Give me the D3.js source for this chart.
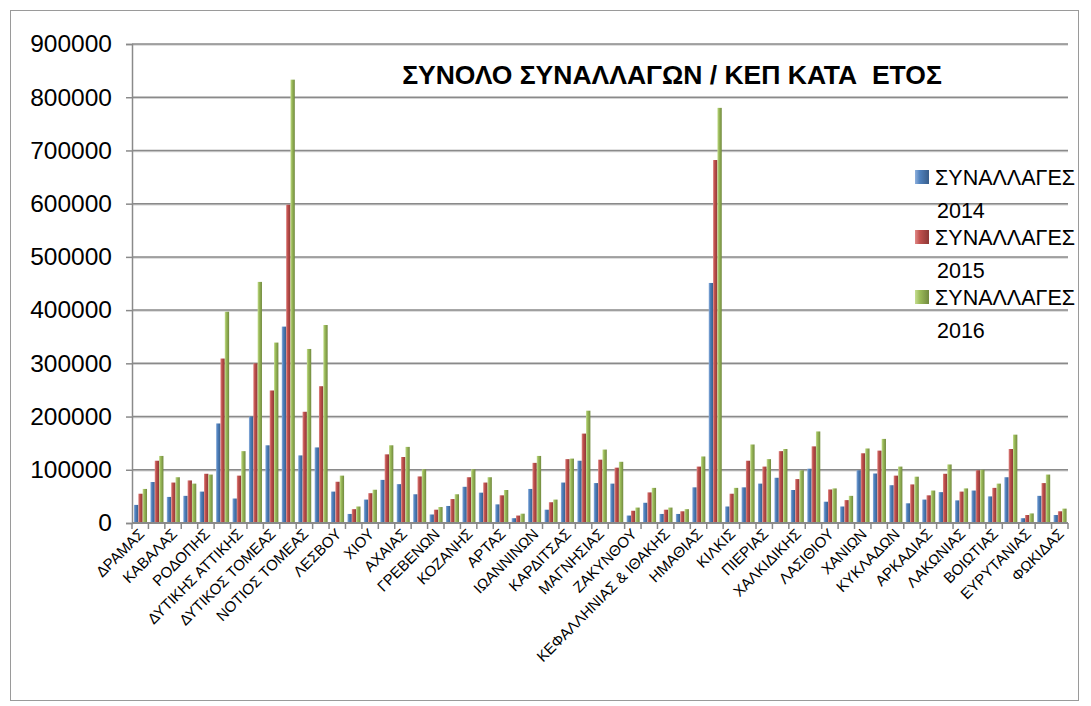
<!DOCTYPE html>
<html>
<head>
<meta charset="utf-8">
<script src="https://cdn.jsdelivr.net/npm/d3@7"></script>
<style>
  body { margin: 0; background: white; }
  text { font-family: "Liberation Sans", Arial, sans-serif; }
</style>
</head>
<body>
<svg id="chart" width="1091" height="706"></svg>
<script>
// categories (only every other one is labelled on the axis)
const categories = [
  "ΔΡΑΜΑΣ", "ΕΒΡΟΥ", "ΚΑΒΑΛΑΣ", "ΞΑΝΘΗΣ", "ΡΟΔΟΠΗΣ", "ΑΝΑΤΟΛΙΚΗΣ ΑΤΤΙΚΗΣ",
  "ΔΥΤΙΚΗΣ ΑΤΤΙΚΗΣ", "ΒΟΡΕΙΟΣ ΤΟΜΕΑΣ", "ΔΥΤΙΚΟΣ ΤΟΜΕΑΣ", "ΚΕΝΤΡΙΚΟΣ ΤΟΜΕΑΣ",
  "ΝΟΤΙΟΣ ΤΟΜΕΑΣ", "ΠΕΙΡΑΙΩΣ", "ΛΕΣΒΟΥ", "ΣΑΜΟΥ", "ΧΙΟΥ", "ΑΙΤΩΛΟΑΚΑΡΝΑΝΙΑΣ",
  "ΑΧΑΙΑΣ", "ΗΛΕΙΑΣ", "ΓΡΕΒΕΝΩΝ", "ΚΑΣΤΟΡΙΑΣ", "ΚΟΖΑΝΗΣ", "ΦΛΩΡΙΝΑΣ", "ΑΡΤΑΣ",
  "ΘΕΣΠΡΩΤΙΑΣ", "ΙΩΑΝΝΙΝΩΝ", "ΠΡΕΒΕΖΑΣ", "ΚΑΡΔΙΤΣΑΣ", "ΛΑΡΙΣΑΣ", "ΜΑΓΝΗΣΙΑΣ",
  "ΤΡΙΚΑΛΩΝ", "ΖΑΚΥΝΘΟΥ", "ΚΕΡΚΥΡΑΣ", "ΚΕΦΑΛΛΗΝΙΑΣ & ΙΘΑΚΗΣ", "ΛΕΥΚΑΔΑΣ",
  "ΗΜΑΘΙΑΣ", "ΘΕΣΣΑΛΟΝΙΚΗΣ", "ΚΙΛΚΙΣ", "ΠΕΛΛΑΣ", "ΠΙΕΡΙΑΣ", "ΣΕΡΡΩΝ",
  "ΧΑΛΚΙΔΙΚΗΣ", "ΗΡΑΚΛΕΙΟΥ", "ΛΑΣΙΘΙΟΥ", "ΡΕΘΥΜΝΟΥ", "ΧΑΝΙΩΝ", "ΔΩΔΕΚΑΝΗΣΟΥ",
  "ΚΥΚΛΑΔΩΝ", "ΑΡΓΟΛΙΔΑΣ", "ΑΡΚΑΔΙΑΣ", "ΚΟΡΙΝΘΙΑΣ", "ΛΑΚΩΝΙΑΣ", "ΜΕΣΣΗΝΙΑΣ",
  "ΒΟΙΩΤΙΑΣ", "ΕΥΒΟΙΑΣ", "ΕΥΡΥΤΑΝΙΑΣ", "ΦΘΙΩΤΙΔΑΣ", "ΦΩΚΙΔΑΣ"
];

const series = ["ΣΥΝΑΛΛΑΓΕΣ 2014", "ΣΥΝΑΛΛΑΓΕΣ 2015", "ΣΥΝΑΛΛΑΓΕΣ 2016"];

const v2014 = [
  34000, 77000, 49000, 51000, 59000, 187000, 46000, 200000, 146000, 369000,
  127000, 142000, 59000, 17000, 44000, 81000, 73000, 54000, 16000, 32000,
  68000, 57000, 35000, 9000, 64000, 25000, 76000, 117000, 75000, 74000,
  14000, 38000, 17000, 17000, 67000, 451000, 31000, 67000, 74000, 85000,
  62000, 102000, 40000, 31000, 99000, 93000, 71000, 37000, 44000, 58000,
  42500, 61000, 50000, 86000, 9000, 51000, 15000
];
const v2015 = [
  55000, 117000, 76000, 80000, 92500, 309000, 89000, 300000, 249000, 598000,
  209000, 257000, 77500, 26000, 56000, 129000, 124000, 87500, 25000, 45000,
  86000, 76000, 52000, 14000, 113000, 39000, 120000, 168000, 119000, 104000,
  23000, 57500, 25000, 22000, 106000, 682000, 55000, 117000, 106000, 135000,
  82500, 144000, 63000, 43000, 131000, 136000, 89000, 72500, 52000, 92500,
  59000, 99000, 66000, 139000, 15000, 75000, 22000
];
const v2016 = [
  64000, 126000, 86000, 74000, 91000, 397000, 135000, 453000, 339000, 833000,
  327000, 372000, 89000, 31000, 62500, 146000, 143000, 101000, 30000, 54000,
  101000, 86000, 62000, 17500, 126000, 44000, 121000, 211000, 138000, 115000,
  29000, 66000, 29000, 26000, 125000, 780000, 66000, 147500, 120000, 139000,
  99000, 172000, 65000, 51000, 140000, 158000, 106000, 87000, 61000, 110000,
  65000, 100000, 74000, 166000, 18000, 91000, 27000
];

const yTicks = [0, 100000, 200000, 300000, 400000, 500000, 600000, 700000, 800000, 900000];
const colors = ["#4f81bd", "#c0504d", "#9bbb59"];
const darker = ["#385d8a", "#8c3836", "#71893f"];
const lighter = ["#8fb0dc", "#e08a88", "#c6de92"];

const values = [v2014, v2015, v2016];

const svg = d3.select("#chart");

// outer chart border
svg.append("rect")
  .attr("x", 10.5).attr("y", 10.5)
  .attr("width", 1068).attr("height", 690)
  .attr("fill", "white")
  .attr("stroke", "#9a9a9a")
  .attr("stroke-width", 1);

const plot = { left: 132, right: 1068, top: 44, bottom: 523 };

const x = d3.scaleBand()
  .domain(categories)
  .range([plot.left, plot.right])
  .padding(0);

const x1 = d3.scaleBand()
  .domain(d3.range(3))
  .range([2.0, x.bandwidth() - 1.4])
  .padding(0);

const y = d3.scaleLinear()
  .domain([0, 900000])
  .range([plot.bottom, plot.top]);

// gradients for the bevelled bar look
const defs = svg.append("defs");
colors.forEach(function(c, i) {
  const grad = defs.append("linearGradient")
    .attr("id", "grad" + i)
    .attr("x1", "0%").attr("x2", "100%")
    .attr("y1", "0%").attr("y2", "0%");
  grad.append("stop").attr("offset", "0%").attr("stop-color", lighter[i]);
  grad.append("stop").attr("offset", "35%").attr("stop-color", c);
  grad.append("stop").attr("offset", "100%").attr("stop-color", darker[i]);
});

// gridlines
svg.append("g")
  .selectAll("line")
  .data(yTicks.slice(1))
  .join("line")
  .attr("x1", plot.left)
  .attr("x2", plot.right)
  .attr("y1", d => y(d) + 1)
  .attr("y2", d => y(d) + 1)
  .attr("stroke", "#d4d4d4")
  .attr("stroke-width", 1.5);

svg.append("g")
  .selectAll("line")
  .data(yTicks.slice(1))
  .join("line")
  .attr("x1", plot.left)
  .attr("x2", plot.right)
  .attr("y1", d => y(d))
  .attr("y2", d => y(d))
  .attr("stroke", "#8a8a8a")
  .attr("stroke-width", 1.5);

// bars
const groups = svg.append("g")
  .selectAll("g")
  .data(categories)
  .join("g")
  .attr("transform", d => translate(x(d), 0));

groups.selectAll("rect")
  .data((d, i) => values.map((v, s) => ({ s: s, value: v[i] })))
  .join("rect")
  .attr("x", d => x1(d.s))
  .attr("width", x1.bandwidth())
  .attr("y", d => y(d.value))
  .attr("height", d => y(0) - y(d.value))
  .attr("fill", d => "url(#grad" + d.s + ")");

// y axis
const yAxis = d3.axisLeft(y)
  .tickValues(yTicks)
  .tickFormat(d3.format("d"))
  .tickSize(6)
  .tickPadding(14);

const gy = svg.append("g")
  .attr("transform", translate(plot.left, 0))
  .call(yAxis);
gy.select(".domain").attr("stroke", "#8a8a8a").attr("stroke-width", 1.5);
gy.selectAll(".tick line").attr("stroke", "#8a8a8a").attr("stroke-width", 1.5);
gy.selectAll(".tick text")
  .attr("font-size", 24.5)
  .attr("fill", "#000")
  .style("font-family", "Liberation Sans, Arial, sans-serif");

// x axis line + boundary ticks
const gx = svg.append("g");
gx.append("line")
  .attr("x1", plot.left).attr("x2", plot.right)
  .attr("y1", plot.bottom).attr("y2", plot.bottom)
  .attr("stroke", "#8a8a8a").attr("stroke-width", 2);

gx.selectAll("line.tick")
  .data(categories.map(c => x(c)).concat([plot.right]))
  .join("line")
  .attr("class", "tick")
  .attr("x1", d => d).attr("x2", d => d)
  .attr("y1", plot.bottom).attr("y2", plot.bottom + 6)
  .attr("stroke", "#8a8a8a").attr("stroke-width", 1.5);

// category labels, every other one
gx.selectAll("text")
  .data(categories.filter((c, i) => i % 2 === 0))
  .join("text")
  .attr("transform", d => translate(x(d) + x.bandwidth() / 2 + 5, plot.bottom + 12) + " rotate(-45)")
  .attr("text-anchor", "end")
  .attr("font-size", 15)
  .attr("fill", "#000")
  .text(d => d);

// title
svg.append("text")
  .attr("x", 672)
  .attr("y", 84)
  .attr("text-anchor", "middle")
  .attr("font-size", 26.5)
  .attr("font-weight", "bold")
  .attr("fill", "#000")
  .style("white-space", "pre")
  .text("ΣΥΝΟΛΟ ΣΥΝΑΛΛΑΓΩΝ / ΚΕΠ ΚΑΤΑ  ΕΤΟΣ");

// legend
const legend = svg.append("g").attr("transform", translate(915, 170));
const item = legend.selectAll("g")
  .data(series)
  .join("g")
  .attr("transform", (d, i) => translate(0, i * 60));

item.append("rect")
  .attr("width", 14).attr("height", 14)
  .attr("fill", (d, i) => "url(#grad" + i + ")");

item.append("text")
  .attr("x", 20).attr("y", 15)
  .attr("font-size", 21.5)
  .attr("fill", "#000")
  .text(d => d.split(" ")[0]);

item.append("text")
  .attr("x", 22).attr("y", 48)
  .attr("font-size", 21.5)
  .attr("fill", "#000")
  .text(d => d.split(" ")[1]);

function translate(x, y) {
  return "translate(" + String(x) + "," + String(y) + ")";
}
</script>
</body>
</html>
